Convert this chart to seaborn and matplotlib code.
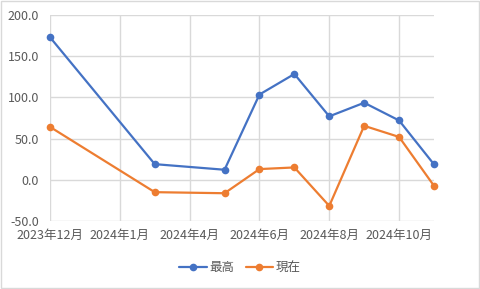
import matplotlib
matplotlib.use("Agg")
import matplotlib.pyplot as plt
import seaborn as sns
import pandas as pd

months = [0, 3, 5, 6, 7, 8, 9, 10, 11]  # months since 2023-12
high = [173.0, 19.0, 12.2, 103.5, 128.4, 77.0, 93.5, 72.0, 18.7]
now = [64.2, -15.0, -16.3, 13.0, 15.0, -31.7, 65.5, 52.0, -7.3]
tick_pos = [0, 2, 4, 6, 8, 10]
tick_labels = ["2023年12月", "2024年1月", "2024年4月", "2024年6月", "2024年8月", "2024年10月"]
series_names = ["最高", "現在"]

df = pd.DataFrame({
    "x": months * 2,
    "value": high + now,
    "series": [series_names[0]] * len(high) + [series_names[1]] * len(now),
})

sns.set_theme(style="white")
plt.rcParams["font.family"] = ["Noto Sans CJK JP", "DejaVu Sans"]

fig = plt.figure(figsize=(4.8, 2.89), dpi=100)
ax = fig.add_axes([50 / 480, 1 - 221 / 289, 384 / 480, 206 / 289])

palette = {"最高": "#4472C4", "現在": "#ED7D31"}
sns.lineplot(data=df, x="x", y="value", hue="series", palette=palette, ax=ax,
             marker="o", markersize=5.5, markeredgewidth=0, linewidth=1.6,
             clip_on=False, zorder=3)

ax.set_xlim(0, 11)
ax.set_ylim(-50, 200)
ax.set_yticks([-50, 0, 50, 100, 150, 200])
ax.set_yticklabels([f"{v:.1f}" for v in [-50, 0, 50, 100, 150, 200]])
ax.set_xticks(tick_pos)
ax.set_xticklabels(tick_labels)
ax.grid(True, color="#D9D9D9", linewidth=1)
ax.set_axisbelow(True)
for s in ax.spines.values():
    s.set_visible(False)
ax.tick_params(axis="y", length=0, labelsize=9, colors="#595959", pad=8)
ax.tick_params(axis="x", length=0, labelsize=9, colors="#595959", pad=6)
ax.set_xlabel("")
ax.set_ylabel("")

handles, labels = ax.get_legend_handles_labels()
ax.legend(handles, labels, loc="center", bbox_to_anchor=(0.5, 21 / 289),
          bbox_transform=fig.transFigure, ncol=2, frameon=False, fontsize=9,
          labelcolor="#595959", handlelength=2.2, columnspacing=0.9, handletextpad=0.2)

border = plt.Rectangle((0.002, 0.003), 0.996, 0.994, transform=fig.transFigure,
                       fill=False, edgecolor="#D9D9D9", linewidth=1)
fig.patches.append(border)

fig.savefig("out.png", dpi=100)
